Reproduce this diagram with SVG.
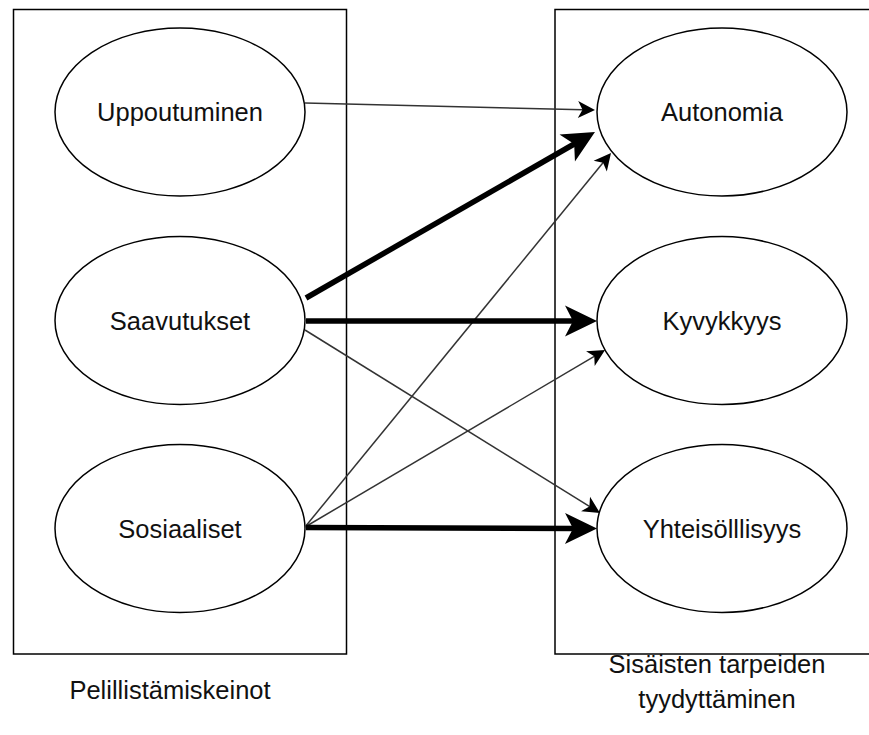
<svg xmlns="http://www.w3.org/2000/svg" width="869" height="735" viewBox="0 0 869 735">
  <style>
    .box { fill: #ffffff; stroke: #000000; stroke-width: 1.5; }
    .node ellipse { fill: #ffffff; stroke: #000000; stroke-width: 1.5; }
    text { font-family: "Liberation Sans", Arial, sans-serif; font-size: 25.5px; fill: #111111; text-anchor: middle; }
    .thin { stroke: #333333; stroke-width: 1.5; fill: none; marker-end: url(#arrowThin); }
    .thick { stroke: #000000; stroke-width: 5.5; fill: none; marker-end: url(#arrowThick); }
  </style>
  <defs>
    <marker id="arrowThin" markerUnits="userSpaceOnUse" orient="auto" refX="5" refY="0" markerWidth="20" markerHeight="20" overflow="visible">
      <path d="M0,-8.5 L17,0 L0,8.5 L4.5,0 Z" fill="#000000"/>
    </marker>
    <marker id="arrowThick" markerUnits="userSpaceOnUse" orient="auto" refX="10" refY="0" markerWidth="40" markerHeight="40" overflow="visible">
      <path d="M0,-15.5 L32,0 L0,15.5 L8,0 Z" fill="#000000"/>
    </marker>
  </defs>

  <g id="container-left">
    <rect class="box" x="13.5" y="9.5" width="333" height="644.5"/>
  </g>
  <g id="container-right">
    <rect class="box" x="555" y="9.5" width="340" height="644.5"/>
  </g>

  <g id="node-uppoutuminen" class="node">
    <ellipse cx="180" cy="112" rx="125" ry="84"/>
    <text x="180" y="121">Uppoutuminen</text>
  </g>
  <g id="node-saavutukset" class="node">
    <ellipse cx="180" cy="320.5" rx="125" ry="84"/>
    <text x="180" y="329.5">Saavutukset</text>
  </g>
  <g id="node-sosiaaliset" class="node">
    <ellipse cx="180" cy="528.5" rx="125" ry="84"/>
    <text x="180" y="537.5">Sosiaaliset</text>
  </g>
  <g id="node-autonomia" class="node">
    <ellipse cx="722" cy="112" rx="125" ry="84"/>
    <text x="722" y="121">Autonomia</text>
  </g>
  <g id="node-kyvykkyys" class="node">
    <ellipse cx="722" cy="320.5" rx="125" ry="84"/>
    <text x="722" y="329.5">Kyvykkyys</text>
  </g>
  <g id="node-yhteisollisyys" class="node">
    <ellipse cx="722" cy="528.5" rx="125" ry="84"/>
    <text x="722" y="537.5">Yhteisölllisyys</text>
  </g>

  <g id="connectors">
    <line class="thin" x1="305" y1="103" x2="583" y2="109.7"/>
    <line class="thick" x1="306" y1="298" x2="575.9" y2="143"/>
    <line class="thin" x1="305" y1="527" x2="603.4" y2="162.3"/>
    <line class="thick" x1="306" y1="321" x2="575" y2="321"/>
    <line class="thin" x1="305" y1="527" x2="594.7" y2="356.1"/>
    <line class="thin" x1="305" y1="330" x2="589.8" y2="506.7"/>
    <line class="thick" x1="306" y1="527.5" x2="575" y2="528.5"/>
  </g>

  <g id="label-left">
    <text x="170" y="699">Pelillistämiskeinot</text>
  </g>
  <g id="label-right">
    <text x="717" y="673">Sisäisten tarpeiden</text>
    <text x="717" y="708">tyydyttäminen</text>
  </g>
</svg>
